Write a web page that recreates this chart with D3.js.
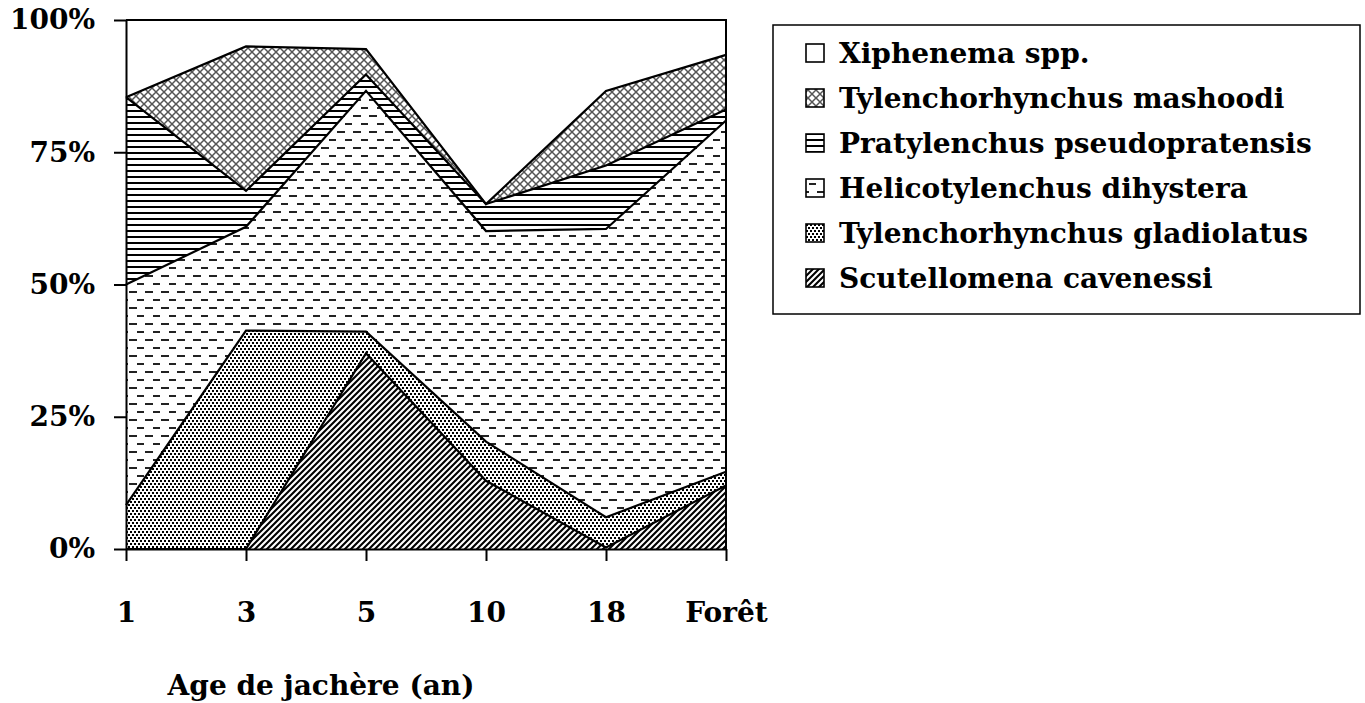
<!DOCTYPE html>
<html>
<head>
<meta charset="utf-8">
<script src="https://cdn.jsdelivr.net/npm/d3@7"></script>
<style>
  body { margin: 0; background: #fff; }
  text { font-family: "DejaVu Serif", serif; font-weight: bold; fill: #000; }
</style>
</head>
<body>
<div id="canvas"></div>
<script>
// categories (age de jachere)
var categories = ["1", "3", "5", "10", "18", "Forêt"];

// species, bottom of the stack first
var species = [
  "Scutellomena cavenessi",
  "Tylenchorhynchus gladiolatus",
  "Helicotylenchus dihystera",
  "Pratylenchus pseudopratensis",
  "Tylenchorhynchus mashoodi",
  "Xiphenema spp."
];

// percent of each species per age
var scutellomena = [0, 0, 37, 12.9, 0.3, 12];
var gladiolatus = [8.3, 41.3, 4.1, 7.4, 5.7, 2.6];
var helicotylenchus = [41.7, 19.6, 45.5, 39.8, 54.5, 66.4];
var pratylenchus = [35.4, 6.8, 3.1, 5.1, 12, 2.1];
var mashoodi = [0, 27.3, 4.8, 0, 14.1, 10.3];
var xiphenema = [14.6, 5, 5.5, 34.8, 13.4, 6.6];

var yTicks = [0, 25, 50, 75, 100];

var seriesValues = [scutellomena, gladiolatus, helicotylenchus, pratylenchus, mashoodi, xiphenema];
var patternIds = ["p-diag", "p-dots", "p-dash", "p-hline", "p-cross", "p-none"];

var width = 1365;
var height = 703;
// note: "top" is taken by window.top, so use other names
var plotLeft = 126, plotRight = 726, plotTop = 20, plotBottom = 549;

// build table rows for d3.stack
var rows = categories.map(function (c, i) {
  var r = { cat: c };
  species.forEach(function (s, j) { r[s] = seriesValues[j][i]; });
  return r;
});

var svg = d3.select("#canvas")
  .append("svg")
  .attr("width", width)
  .attr("height", height);

// fill patterns
var defs = svg.append("defs");

var p = defs.append("pattern").attr("id", "p-diag")
  .attr("patternUnits", "userSpaceOnUse").attr("width", 6).attr("height", 6);
p.append("rect").attr("width", 6).attr("height", 6).attr("fill", "#fff");
p.append("path").attr("d", "M-1,1L1,-1M0,6L6,0M5,7L7,5")
  .attr("stroke", "#000").attr("stroke-width", 2.1);

p = defs.append("pattern").attr("id", "p-dots")
  .attr("patternUnits", "userSpaceOnUse").attr("width", 4).attr("height", 6);
p.append("rect").attr("width", 4).attr("height", 6).attr("fill", "#fff");
p.append("rect").attr("x", 0).attr("y", 0).attr("width", 2).attr("height", 2).attr("fill", "#000");
p.append("rect").attr("x", 2).attr("y", 3).attr("width", 2).attr("height", 2).attr("fill", "#000");

p = defs.append("pattern").attr("id", "p-dash")
  .attr("patternUnits", "userSpaceOnUse").attr("width", 16).attr("height", 16);
p.append("rect").attr("width", 16).attr("height", 16).attr("fill", "#fff");
p.append("rect").attr("x", 1).attr("y", 3).attr("width", 8).attr("height", 2).attr("fill", "#222");
p.append("rect").attr("x", 9).attr("y", 11).attr("width", 8).attr("height", 2).attr("fill", "#222");

p = defs.append("pattern").attr("id", "p-hline")
  .attr("patternUnits", "userSpaceOnUse").attr("width", 6).attr("height", 6);
p.append("rect").attr("width", 6).attr("height", 6).attr("fill", "#fff");
p.append("rect").attr("x", 0).attr("y", 2).attr("width", 6).attr("height", 2).attr("fill", "#000");

p = defs.append("pattern").attr("id", "p-cross")
  .attr("patternUnits", "userSpaceOnUse").attr("width", 8).attr("height", 8);
p.append("rect").attr("width", 8).attr("height", 8).attr("fill", "#fff");
p.append("path").attr("d", "M0,0L8,8M8,0L0,8")
  .attr("stroke", "#555").attr("stroke-width", 1.5);

function fillOf(i) {
  return patternIds[i] == "p-none" ? "#fff" : "url(#" + patternIds[i] + ")";
}

// scales
var scalex = d3.scalePoint().domain(categories).range([plotLeft, plotRight]);
var scaley = d3.scaleLinear().domain([0, 100]).range([plotBottom, plotTop]);

var stacked = d3.stack().keys(species)(rows);

var area = d3.area()
  .x(function (d) { return scalex(d.data.cat); })
  .y0(function (d) { return scaley(d[0]); })
  .y1(function (d) { return scaley(d[1]); });

var topLine = d3.line()
  .x(function (d) { return scalex(d.data.cat); })
  .y(function (d) { return scaley(d[1]); });

svg.append("g").selectAll("path")
  .data(stacked)
  .enter()
  .append("path")
  .attr("d", area)
  .attr("fill", function (d, i) { return fillOf(i); });

svg.append("g").selectAll("path")
  .data(stacked)
  .enter()
  .append("path")
  .attr("d", topLine)
  .attr("fill", "none")
  .attr("stroke", "#000")
  .attr("stroke-width", 2.2)
  .attr("stroke-linejoin", "miter");

// plot border (top and right)
svg.append("path")
  .attr("d", "M" + plotLeft + "," + plotTop + "H" + plotRight + "V" + plotBottom)
  .attr("fill", "none")
  .attr("stroke", "#000")
  .attr("stroke-width", 2);

// axes
var yaxis = d3.axisLeft(scaley)
  .tickValues(yTicks)
  .tickSize(12)
  .tickSizeOuter(0)
  .tickPadding(19)
  .tickFormat(function (d) { return d + "%"; });

var xaxis = d3.axisBottom(scalex)
  .tickSize(12)
  .tickSizeOuter(0)
  .tickPadding(41);

var gy = svg.append("g")
  .attr("transform", "translate(" + plotLeft + ",0)")
  .call(yaxis);
var gx = svg.append("g")
  .attr("transform", "translate(0," + plotBottom + ")")
  .call(xaxis);

[gx, gy].forEach(function (g) {
  g.selectAll("path, line").attr("stroke", "#000").attr("stroke-width", 2);
  g.selectAll("text")
    .attr("font-family", "DejaVu Serif")
    .attr("font-weight", "bold")
    .attr("font-size", 28)
    .attr("fill", "#000");
});

// x title
svg.append("text")
  .attr("x", 321)
  .attr("y", 695)
  .attr("text-anchor", "middle")
  .attr("font-size", 28)
  .text("Age de jachère (an)");

// legend
var legend = svg.append("g");
legend.append("rect")
  .attr("x", 773).attr("y", 25)
  .attr("width", 587).attr("height", 289)
  .attr("fill", "#fff")
  .attr("stroke", "#000")
  .attr("stroke-width", 1.5);

var legendOrder = d3.range(species.length).reverse();
var item = legend.selectAll("g.item")
  .data(legendOrder)
  .enter()
  .append("g")
  .attr("class", "item")
  .attr("transform", function (d, k) { return "translate(0," + (53 + k * 45) + ")"; });

item.append("rect")
  .attr("x", 806).attr("y", -9)
  .attr("width", 18).attr("height", 18)
  .attr("fill", function (d) { return fillOf(d); })
  .attr("stroke", "#000")
  .attr("stroke-width", 1.6);

item.append("text")
  .attr("x", 839)
  .attr("y", 10)
  .attr("font-size", 28)
  .text(function (d) { return species[d]; });
</script>
</body>
</html>
